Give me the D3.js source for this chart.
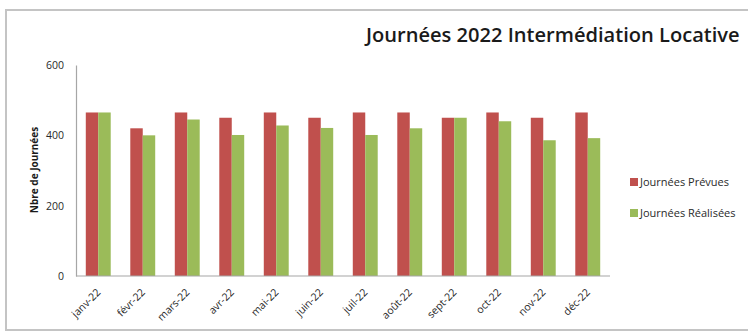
<!DOCTYPE html>
<html><head><meta charset="utf-8">
<script src="https://cdn.jsdelivr.net/npm/d3@7"></script>
<style>
html,body{margin:0;padding:0;background:#fff;overflow:hidden}
svg{display:block}
text{font-family:"Open Sans","Liberation Sans",sans-serif}
</style></head>
<body>
<svg id="chart" width="748" height="333"></svg>
<script>
const months = ["janv-22","févr-22","mars-22","avr-22","mai-22","juin-22","juil-22","août-22","sept-22","oct-22","nov-22","déc-22"];
const prevues = [465,420,465,450,465,450,465,465,450,465,450,465];
const realisees = [465,400,445,401,428,421,401,420,450,440,386,392];
const seriesNames = ["Journées Prévues","Journées Réalisées"];
const colors = ["#c0504d","#9bbb59"];
const yTicks = [0,200,400,600];

const svg = d3.select("#chart");
// frame
svg.append("rect").attr("x",6).attr("y",10).attr("width",760).attr("height",320)
  .attr("fill","none").attr("stroke","#c4c4c4").attr("stroke-width",2);

const x0 = d3.scaleBand().domain(months).range([76,610]).paddingInner(0.44).paddingOuter(0.22);
const x1 = d3.scaleBand().domain([0,1]).range([0,x0.bandwidth()]);
const y = d3.scaleLinear().domain([0,600]).range([276,65]);

// title (fit within the window)
const title = svg.append("text").attr("x",366).attr("y",42)
  .attr("font-size",21).attr("font-weight",600).attr("fill","#1a1a1a")
  .text("Journées 2022 Intermédiation Locative");
const tw = title.node().getComputedTextLength();
const maxW = 374;
if (tw > maxW) title.attr("font-size", 21 * maxW / tw);

// bars
const data = months.map((m,i)=>({m, v:[prevues[i],realisees[i]]}));
const g = svg.append("g");
data.forEach(d=>{
  d.v.forEach((v,k)=>{
    g.append("rect").attr("x",x0(d.m)+x1(k)).attr("width",x1.bandwidth())
      .attr("y",y(v)).attr("height",y(0)-y(v)).attr("fill",colors[k]);
  });
});

// y axis
const yAxis = d3.axisLeft(y).tickValues(yTicks).tickSize(0).tickPadding(12);
const ya = svg.append("g").attr("transform","translate(76,0)").call(yAxis);
ya.select(".domain").attr("stroke","#a6a6a6").attr("stroke-width",1.2);
ya.selectAll("text").attr("font-size",10.5).attr("fill","#2a2a2a").attr("font-family","Open Sans, sans-serif");

// x axis
const xAxis = d3.axisBottom(x0).tickSize(0).tickPadding(0);
const xa = svg.append("g").attr("transform","translate(0,276)").call(xAxis);
xa.select(".domain").attr("stroke","#a6a6a6").attr("stroke-width",1.2).attr("d","M76,0H610");
xa.selectAll("text").attr("font-size",10.5).attr("fill","#2a2a2a")
  .attr("text-anchor","end").attr("dy",0)
  .attr("transform","translate(3,17) rotate(-45)");

// y axis label
svg.append("text").attr("transform","translate(38,170) rotate(-90)")
  .attr("text-anchor","middle").attr("font-size",10).attr("font-weight",700).attr("fill","#1a1a1a")
  .text("Nbre de Journées");

// legend
const lg = svg.append("g");
seriesNames.forEach((n,k)=>{
  lg.append("rect").attr("x",630).attr("y",178+k*31).attr("width",8).attr("height",8).attr("fill",colors[k]);
  lg.append("text").attr("x",640).attr("y",186+k*31).attr("font-size",11).attr("fill","#2a2a2a").text(n);
});
</script>
</body></html>
